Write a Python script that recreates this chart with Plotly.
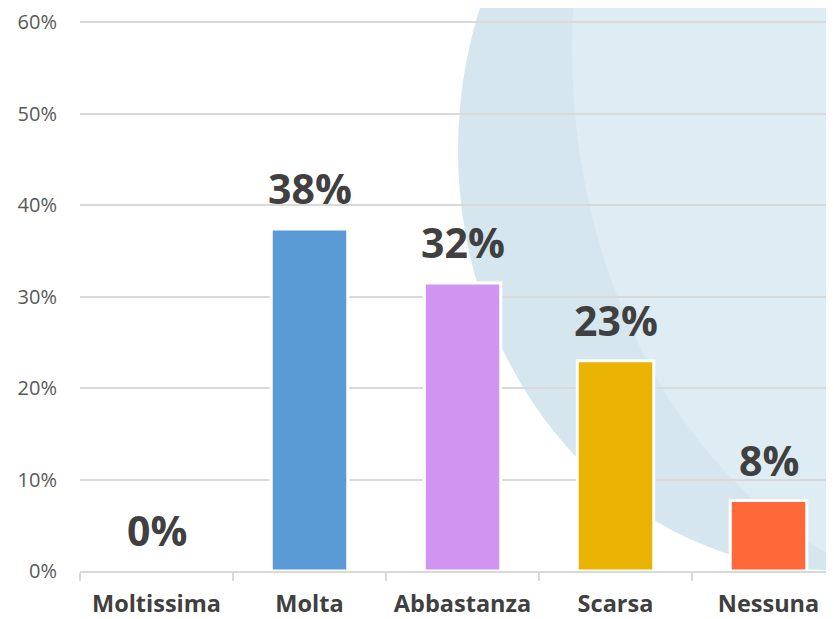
# Libraries
import plotly.graph_objects as go

# Data
categories = ["Moltissima", "Molta", "Abbastanza", "Scarsa", "Nessuna"]
values = [0.0, 0.374, 0.315, 0.23, 0.077]
labels = ["0%", "38%", "32%", "23%", "8%"]
colors = ["#5B9BD5", "#5B9BD5", "#CF95F0", "#EAB304", "#FF6839"]

# Canvas / plot area in pixels (page body adds an 8px offset)
W, H = 834, 619
OFF = 8
PL, PR, PT, PB = 80 - OFF, OFF, 21 - OFF, 48 + OFF
pw, ph = W - PL - PR, H - PT - PB


def px_x(x):
    # screen pixel -> paper x
    return (x - OFF - PL) / pw


def px_y(y):
    # screen pixel -> paper y
    return (H - PB - (y - OFF)) / ph


fig = go.Figure()

fig.add_trace(
    go.Bar(
        x=categories,
        y=values,
        width=0.5,
        marker=dict(color=colors, line=dict(color="white", width=3)),
        showlegend=False,
    )
)

# value labels above the bars
for cat, val, lab in zip(categories, values, labels):
    fig.add_annotation(
        x=cat,
        y=val,
        text=lab,
        showarrow=False,
        yanchor="bottom",
        yshift=11,
        font=dict(family="Open Sans", size=41, color="#404040", weight="bold"),
    )

# decorative background blobs
fig.add_shape(
    type="circle",
    xref="paper",
    yref="paper",
    x0=px_x(458),
    x1=px_x(1202),
    y0=px_y(570),
    y1=px_y(-270),
    fillcolor="#D5E6EF",
    line=dict(width=0),
    layer="below",
)
fig.add_shape(
    type="circle",
    xref="paper",
    yref="paper",
    x0=px_x(572),
    x1=px_x(1428),
    y0=px_y(600),
    y1=px_y(-500),
    fillcolor="#DEECF4",
    line=dict(width=0),
    layer="below",
)
# keep the inner blob from spilling below the outer one
fig.add_shape(
    type="rect",
    xref="paper",
    yref="paper",
    x0=px_x(700),
    x1=px_x(900),
    y0=px_y(640),
    y1=px_y(571),
    fillcolor="white",
    line=dict(width=0),
    layer="below",
)

fig.update_layout(
    width=W,
    height=H,
    margin=dict(l=PL, r=PR, t=PT, b=PB, autoexpand=False),
    paper_bgcolor="white",
    plot_bgcolor="rgba(0,0,0,0)",
    font=dict(family="Open Sans"),
)

fig.update_xaxes(
    type="category",
    range=[-0.5, 4.428],
    tickson="boundaries",
    ticks="outside",
    ticklen=8,
    tickwidth=2,
    tickcolor="#D9D9D9",
    showline=True,
    linecolor="#D9D9D9",
    linewidth=2,
    showgrid=False,
    automargin=False,
    tickangle=0,
    ticklabelstandoff=11,
    tickfont=dict(family="Open Sans", size=23.5, color="#404040", weight="bold"),
)
fig.update_yaxes(
    range=[0, 0.6015],
    tickvals=[0, 0.1, 0.2, 0.3, 0.4, 0.5, 0.6],
    tickformat=".0%",
    showgrid=True,
    gridcolor="#D9D9D9",
    gridwidth=2,
    zeroline=False,
    automargin=False,
    ticks="outside",
    ticklen=18,
    tickcolor="rgba(0,0,0,0)",
    tickfont=dict(family="Open Sans", size=20, color="#595959"),
)

fig.write_html("out.html")
